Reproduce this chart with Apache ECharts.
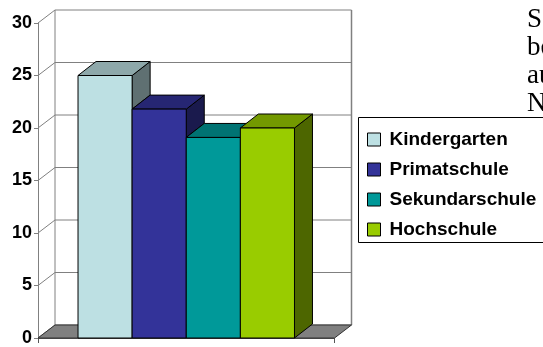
<!DOCTYPE html>
<html>
<head>
<meta charset="utf-8">
<script src="https://cdn.jsdelivr.net/npm/echarts@6/dist/echarts.min.js"></script>
<style>
  html, body { margin: 0; padding: 0; background: #fff; }
  #chart { width: 543px; height: 347px; }
</style>
</head>
<body>
<div id="chart"></div>
<script>
// School levels and their shares (percent)
const levels = ['Kindergarten', 'Primatschule', 'Sekundarschule', 'Hochschule'];
const shares = [25, 21.8, 19.1, 20];
const yTicks = [0, 5, 10, 15, 20, 25, 30];
// Running text of the page beside the chart
const sideText = ['S', 'be', 'au', 'N'];

// front / top / side shading of each column
const faceColors = [
  { front: '#BDE0E3', top: '#8EA8AA', side: '#5F7072' },
  { front: '#333399', top: '#262673', side: '#1A1A4D' },
  { front: '#009999', top: '#007373', side: '#004D4D' },
  { front: '#99CC00', top: '#739900', side: '#4D6600' }
];

const BAR_DEPTH = [18, -14];   // pixel offset of a column's back face
const WALL_DEPTH = [17, -13];  // pixel offset of the back wall
const GROUP_WIDTH = 0.73;      // share of the category band used by the columns
const LINE = '#808080';

function columnRenderer(i) {
  return function (params, api) {
    const base = api.coord([0, 0]);
    const band = api.size([1, 0])[0];
    const w = band * GROUP_WIDTH / levels.length;
    const x0 = base[0] - band * GROUP_WIDTH / 2 + i * w;
    const x1 = x0 + w;
    const yBase = base[1];
    const yTop = api.coord([0, api.value(1)])[1];
    const dx = BAR_DEPTH[0], dy = BAR_DEPTH[1];
    const c = faceColors[i];
    const edge = { stroke: '#000', lineWidth: 1 };
    const children = [];

    // right face: only the part standing above the next column is visible
    const next = i + 1 < shares.length ? shares[i + 1] : 0;
    if (api.value(1) > next) {
      const yLow = api.coord([0, next])[1];
      children.push({
        type: 'polygon',
        shape: { points: [[x1, yTop], [x1 + dx, yTop + dy], [x1 + dx, yLow + dy], [x1, yLow]] },
        style: Object.assign({ fill: c.side }, edge)
      });
    }
    children.push({
      type: 'polygon',
      shape: { points: [[x0, yTop], [x1, yTop], [x1 + dx, yTop + dy], [x0 + dx, yTop + dy]] },
      style: Object.assign({ fill: c.top }, edge)
    });
    children.push({
      type: 'rect',
      shape: { x: x0, y: yTop, width: w, height: yBase - yTop },
      style: Object.assign({ fill: c.front }, edge)
    });
    return { type: 'group', children: children };
  };
}

function frameRenderer(params, api) {
  const p = api.coord([0, api.value(1)]);
  const base = api.coord([0, 0]);
  const top = api.coord([0, yTicks[yTicks.length - 1]]);
  const band = api.size([1, 0])[0];
  const gx0 = p[0] - band / 2, gx1 = p[0] + band / 2;
  const dx = WALL_DEPTH[0], dy = WALL_DEPTH[1];
  const y = p[1];
  const children = [{
    type: 'polyline',
    shape: { points: [[gx0, y], [gx0 + dx, y + dy], [gx1 + dx, y + dy]] },
    style: { stroke: LINE, lineWidth: 1, fill: null }
  }];
  if (params.dataIndex === 0) {
    // back wall edges
    children.push({
      type: 'line',
      shape: { x1: gx0 + dx, y1: top[1] + dy, x2: gx0 + dx, y2: base[1] + dy },
      style: { stroke: LINE, lineWidth: 1 }
    });
    children.push({
      type: 'line',
      shape: { x1: gx1 + dx, y1: top[1] + dy, x2: gx1 + dx, y2: base[1] + dy },
      style: { stroke: LINE, lineWidth: 1.5 }
    });
    // floor
    children.push({
      type: 'polygon',
      shape: { points: [[gx0, base[1]], [gx1, base[1]], [gx1 + dx, base[1] + dy], [gx0 + dx, base[1] + dy]] },
      style: { fill: '#808080', stroke: '#333', lineWidth: 1 }
    });
  }
  return { type: 'group', children: children };
}

const chart = echarts.init(document.getElementById('chart'), null, { renderer: 'canvas' });

const series = [{
  type: 'custom',
  name: 'frame',
  silent: true,
  renderItem: frameRenderer,
  data: yTicks.map(v => [0, v]),
  z: 1
}];
levels.forEach((name, i) => {
  series.push({
    type: 'custom',
    name: name,
    renderItem: columnRenderer(i),
    itemStyle: { color: faceColors[i].front },
    data: [[0, shares[i]]],
    z: 2 + i
  });
});

const fontSans = '"Liberation Sans", Arial, sans-serif';

chart.setOption({
  animation: false,
  backgroundColor: '#fff',
  grid: { left: 38, top: 23, right: 208.5, bottom: 5, containLabel: false },
  xAxis: {
    type: 'category',
    data: [''],
    axisLine: { show: true, lineStyle: { color: '#555', width: 1 } },
    axisTick: { show: true, length: 5, lineStyle: { color: '#555' } },
    axisLabel: { show: false },
    splitLine: { show: false }
  },
  yAxis: {
    type: 'value',
    min: 0,
    max: 30,
    interval: 5,
    axisLine: { show: true, lineStyle: { color: LINE, width: 1 } },
    axisTick: { show: true, length: 4, lineStyle: { color: LINE } },
    axisLabel: { fontFamily: fontSans, fontWeight: 'bold', fontSize: 18, color: '#000', margin: 6 },
    splitLine: { show: false }
  },
  legend: {
    data: levels,
    orient: 'vertical',
    left: 362,
    top: 125,
    itemWidth: 13,
    itemHeight: 13,
    itemGap: 11,
    icon: 'rect',
    selectedMode: false,
    itemStyle: { borderColor: '#000', borderWidth: 1 },
    textStyle: { fontFamily: fontSans, fontWeight: 'bold', fontSize: 19, color: '#000', padding: [0, 0, 0, 4] }
  },
  graphic: [
    {
      type: 'rect',
      shape: { x: 358.5, y: 117.5, width: 260, height: 125 },
      style: { fill: 'none', stroke: '#000', lineWidth: 1 },
      silent: true
    }
  ].concat(sideText.map((t, k) => ({
    type: 'text',
    x: 527,
    y: 6 + k * 28,
    style: { text: t, font: '27px "Liberation Serif", "Times New Roman", serif', fill: '#000', verticalAlign: 'top' },
    silent: true
  }))),
  series: series
});
</script>
</body>
</html>
